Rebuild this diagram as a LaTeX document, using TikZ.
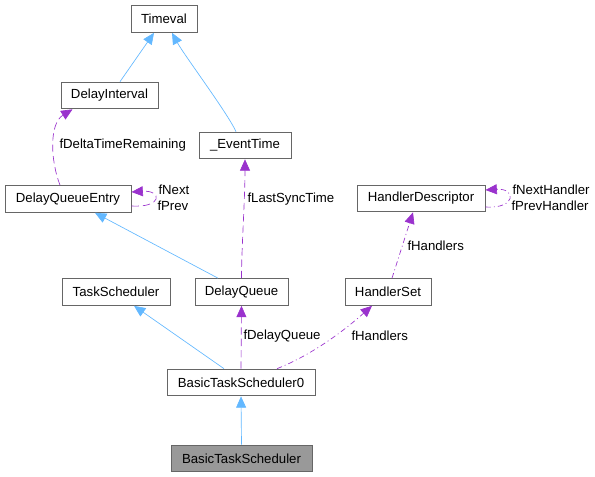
\documentclass[tikz,border=0pt]{standalone}
\usepackage{fontspec}
\setmainfont{Liberation Sans}
\usetikzlibrary{arrows.meta,calc}

\definecolor{inhblue}{HTML}{63B8FF}
\definecolor{usepurple}{HTML}{9A32CD}
\definecolor{boxgray}{HTML}{666666}
\definecolor{curfill}{HTML}{999999}

\tikzset{every picture/.style={line width=0.75pt}}
\tikzset{
  cls/.style={draw=boxgray, line width=0.75pt, inner sep=0pt, minimum height=20pt, font=\fontsize{9.9}{11}\selectfont},
  lbl/.style={anchor=west, inner sep=0pt, font=\fontsize{9.9}{11}\selectfont},
  inh/.style={draw=inhblue, line width=0.5pt, -{Triangle[length=8.5pt,width=7.5pt,fill=inhblue]}},
  mem/.style={draw=usepurple, line width=0.5pt, dash pattern=on 5.5pt off 3pt, -{Triangle[length=8.5pt,width=7.5pt,fill=usepurple]}},
  memdot/.style={mem, dash pattern=on 4pt off 2.25pt on 0.75pt off 2.25pt}
}

\begin{document}
\begin{tikzpicture}[x=0.75pt,y=0.75pt,yscale=-1,xscale=1]
\useasboundingbox (0,0) rectangle (595,477);

% Class boxes
\node [cls, minimum width=49.5pt] (tv) at (164,19) {Timeval};
\node [cls, minimum width=72.75pt] (di) at (109.5,95.5) {DelayInterval};
\node [cls, minimum width=69pt] (evt) at (245,145.5) {\_EventTime};
\node [cls, minimum width=94.5pt] (dqe) at (68,199) {DelayQueueEntry};
\node [cls, minimum width=96pt] (hd) at (421,198.5) {HandlerDescriptor};
\node [cls, minimum width=81pt] (ts) at (116,292) {TaskScheduler};
\node [cls, minimum width=69.75pt] (dq) at (241.5,292) {DelayQueue};
\node [cls, minimum width=64.5pt] (hs) at (388,292) {HandlerSet};
\node [cls, minimum width=111pt] (bts0) at (241,382.5) {BasicTaskScheduler0};
\node [cls, minimum width=105.75pt, fill=curfill] (bts) at (241.5,458.5) {BasicTaskScheduler};

% Inheritance
\draw [inh] ($(di.north)+(10.5,0)$) -- ($(tv.south)+(-10,0)$);
\draw [inh] ($(evt.north)+(-9,0)$) .. controls +(-8,-18) and +(12,22) .. ($(tv.south)+(8,0)$);
\draw [inh] ($(dq.north)+(-23.5,0)$) -- ($(dqe.south)+(27,0)$);
\draw [inh] ($(bts0.north)+(-17,0)$) -- ($(ts.south)+(18,0)$);
\draw [inh] (bts.north) -- (bts0.south);

% Members
\draw [mem] ($(dqe.north)+(-8,0)$) .. controls +(-10,-26) and +(-23,14) .. ($(di.south)+(-37,0)$);
\draw [mem] ($(dqe.east)+(0,7)$) .. controls +(31,2) and +(31,-2) .. ($(dqe.east)+(0,-7)$);
\draw [mem] (dq.north) .. controls +(0,-30) and +(0,40) .. (evt.south);
\draw [mem] (bts0.north) -- (dq.south);
\draw [memdot] ($(hs.north)+(4,0)$) -- ($(hd.south)+(-8,0)$);
\draw [memdot] ($(hd.east)+(0,8.5)$) .. controls +(31,2) and +(31,-2) .. ($(hd.east)+(0,-8.5)$);
\draw [memdot] ($(bts0.north)+(36,0)$) .. controls +(43,-17) and +(-17,15) .. ($(hs.south)+(-16,0)$);

% Text Node
\node [lbl] (l1) at (59,145) {fDeltaTimeRemaining};
% Text Node
\node [lbl] (l2) at (158,190) {fNext};
% Text Node
\node [lbl] (l3) at (157,206) {fPrev};
% Text Node
\node [lbl] (l4) at (247,199) {fLastSyncTime};
% Text Node
\node [lbl] (l5) at (512,190) {fNextHandler};
% Text Node
\node [lbl] (l6) at (511,206) {fPrevHandler};
% Text Node
\node [lbl] (l7) at (407,246) {fHandlers};
% Text Node
\node [lbl] (l8) at (243,336) {fDelayQueue};
% Text Node
\node [lbl] (l9) at (351,336) {fHandlers};

\end{tikzpicture}
\end{document}
